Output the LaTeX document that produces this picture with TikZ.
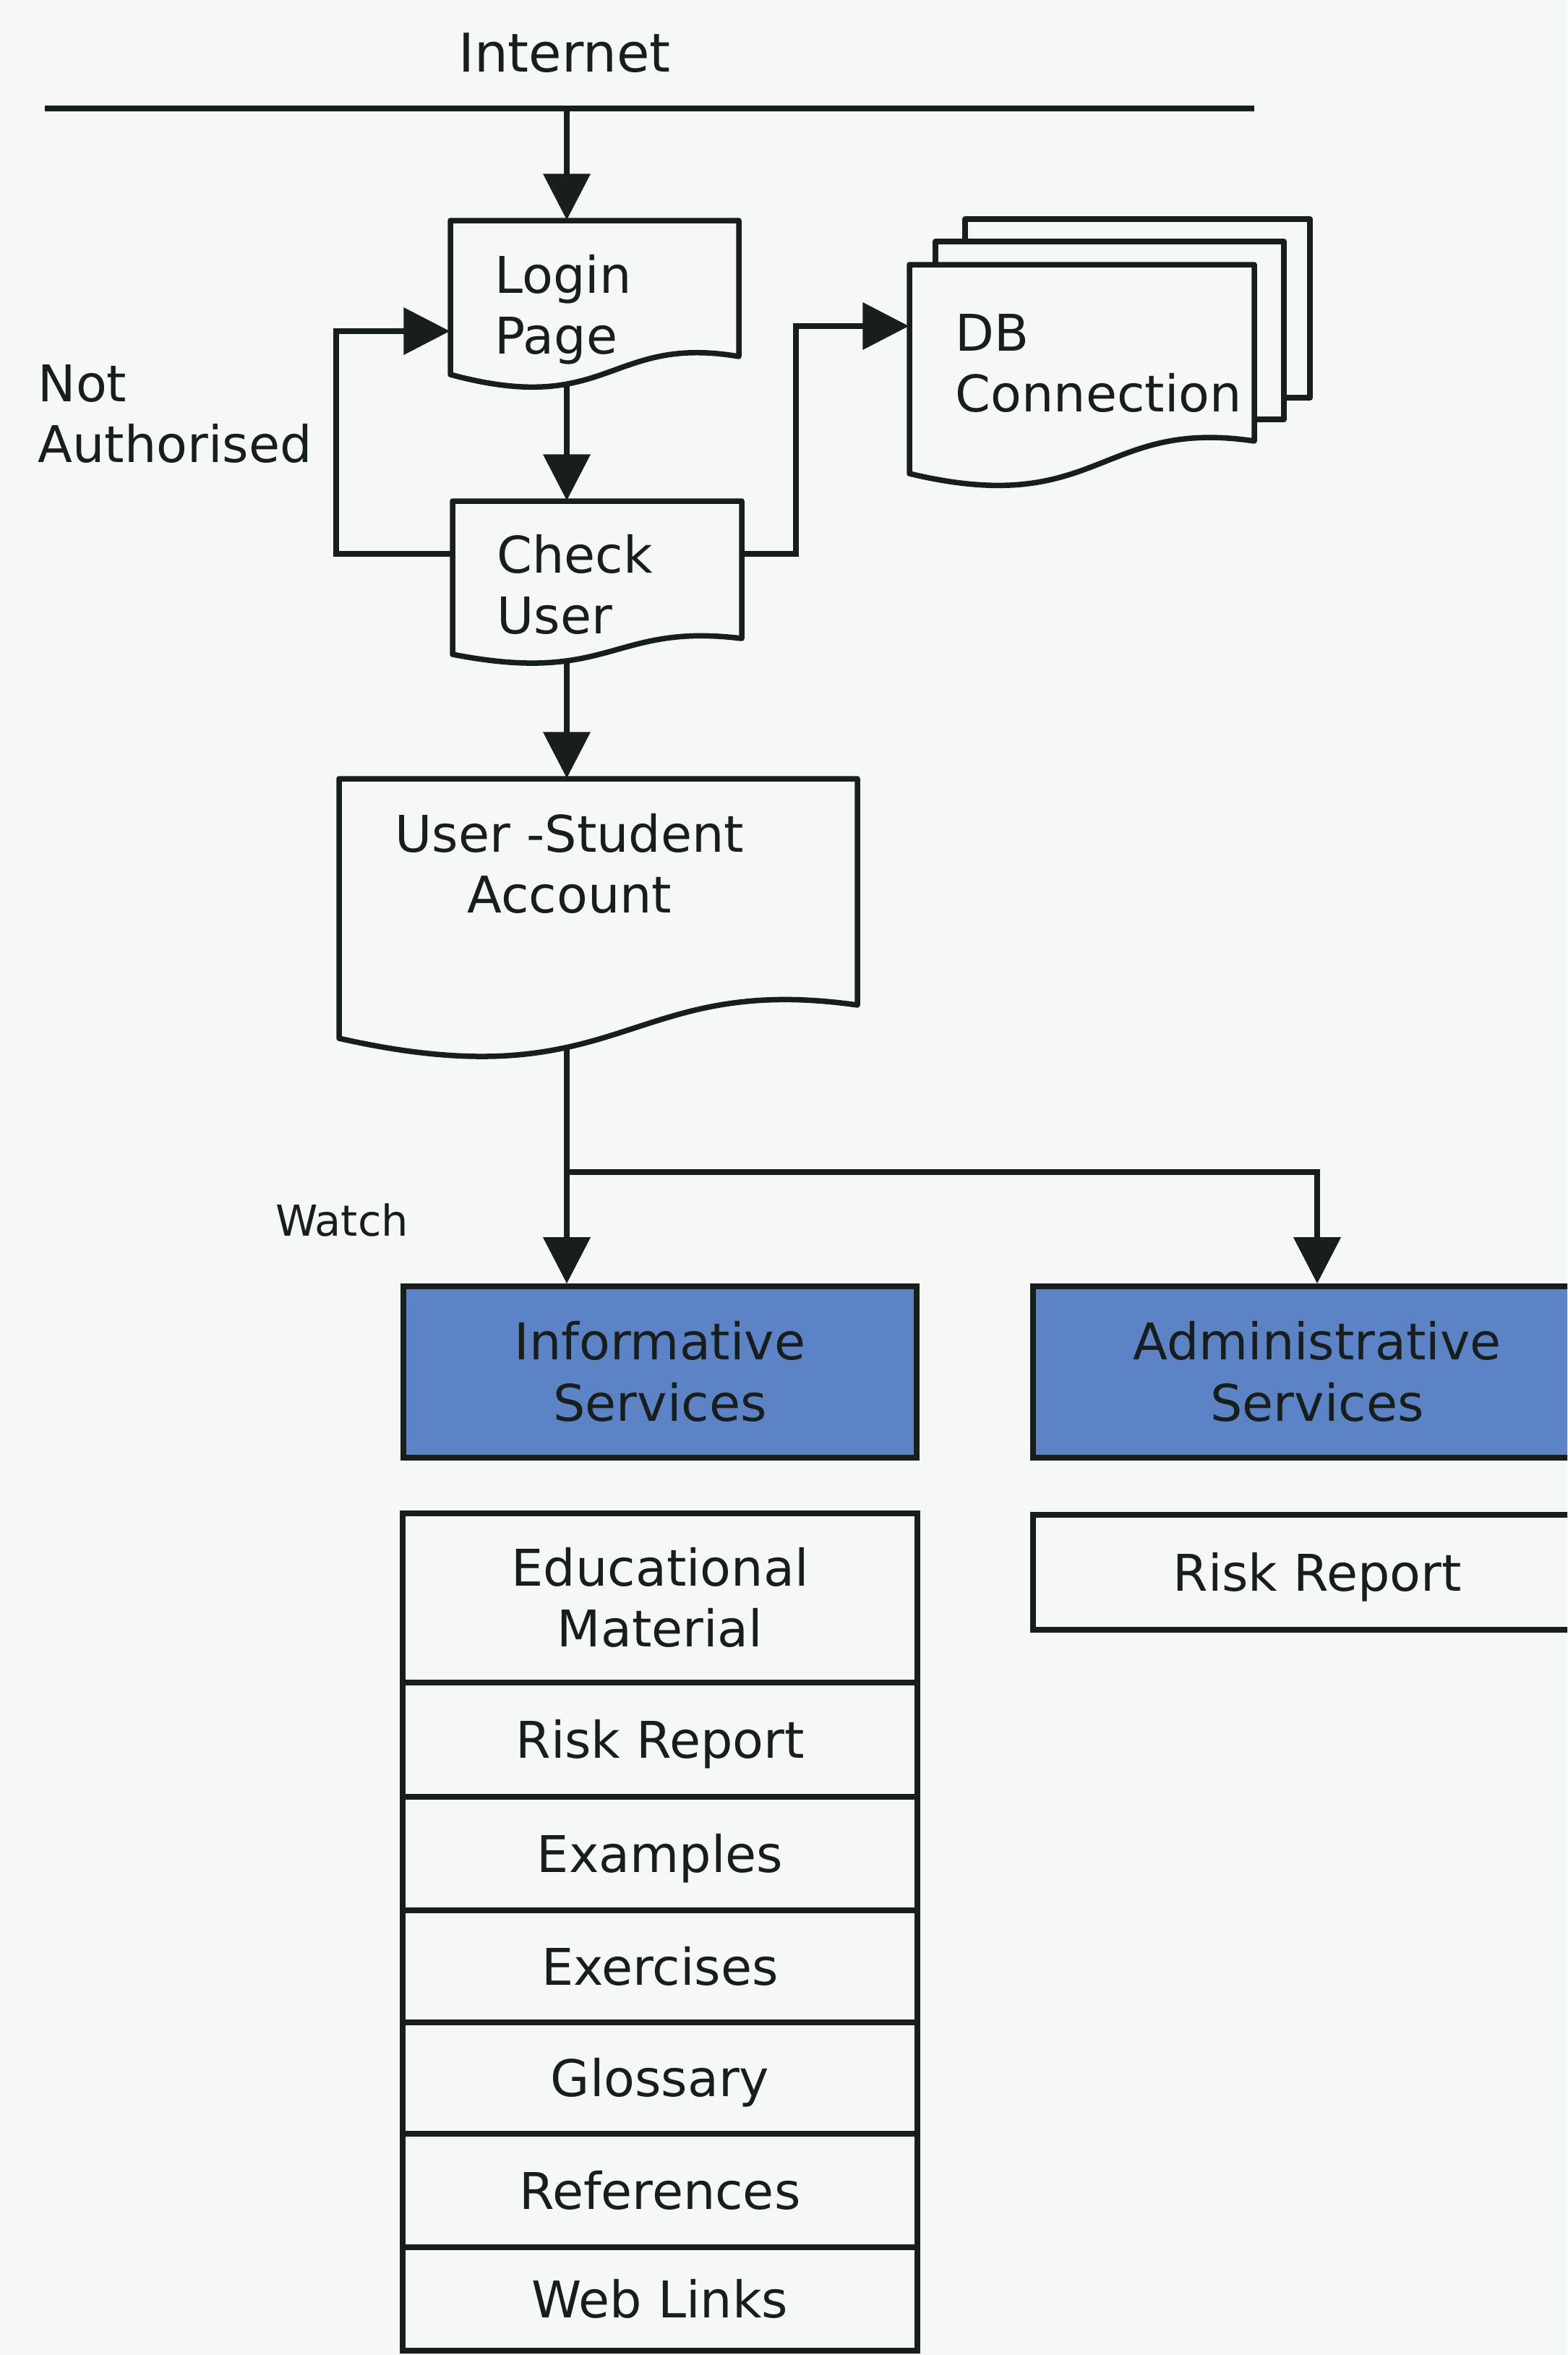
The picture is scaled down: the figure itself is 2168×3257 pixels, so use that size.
\documentclass[tikz,border=0pt]{standalone}
\usepackage{fontspec}
\setmainfont{DejaVu Sans}
\usetikzlibrary{arrows.meta,fit}
\pgfdeclarelayer{paper}
\pgfdeclarelayer{wires}
\pgfsetlayers{paper,wires,main}
\definecolor{ink}{RGB}{24,30,26}
\definecolor{paperc}{RGB}{246,248,246}
\definecolor{svcblue}{RGB}{93,131,199}

% document shape: #1 style, left, top, right, left-bottom y, right-bottom y, wave depth
\newcommand\docshape[7]{%
  \path[#1] (#2,#3) -- (#4,#3) -- (#4,#6)
    .. controls ({#2+0.55*(#4-#2)},{#6-1.7*#7}) and ({#2+0.55*(#4-#2)},{#5+3.3*#7}) .. (#2,#5) -- cycle;}

\tikzset{
  outline/.style={draw=ink, line width=0.075cm, fill=paperc, line join=round},
  wire/.style={draw=ink, line width=0.075cm},
  flow/.style={wire, -{Triangle[length=0.64cm,width=0.64cm]}},
  area/.style={inner sep=0pt, draw=none},
  txt/.style={font=\fontsize{19.9pt}{23.9pt}\selectfont, text=ink, inner sep=0pt,
              text height=14.5pt, text depth=0pt},
  txttwo/.style={txt, text height=38.4pt},
  svc/.style={draw=ink, line width=0.075cm, fill=svcblue, minimum height=2.37cm},
  cell/.style={draw=ink, line width=0.075cm, fill=paperc, minimum width=7.12cm},
}

\begin{document}
\begin{tikzpicture}[x=0.01cm,y=-0.01cm]
\useasboundingbox (0,0) rectangle (2168,3257);
\begin{pgfonlayer}{paper}
  \fill[paperc] (0,0) rectangle (2168,3257);
\end{pgfonlayer}
\clip (0,0) rectangle (2168,3257);

% network bus
\coordinate (busL) at (62,150);
\coordinate (busR) at (1735,150);
\coordinate (spine) at (784,150);
\draw[wire] (busL) -- (busR);
\node[txt, font=\fontsize{21pt}{25pt}\selectfont, text height=15.3pt] (inet) at (781,73) {Internet};

% document shapes
\docshape{outline}{623}{305}{1022}{518}{493}{18}
\node[area, fit={(623,305) (1022,518)}] (login) {};
\node[txttwo, anchor=west, align=left] (logintext) at (684,422) {Login\\Page};

\docshape{outline}{626}{693}{1026}{905}{883}{13}
\node[area, fit={(626,693) (1026,905)}] (check) {};
\node[txttwo, anchor=west, align=left] (checktext) at (687,809) {Check\\User};

% stacked database documents
\path[outline] (1335,303) rectangle (1812,550);
\path[outline] (1294,334) rectangle (1776,580);
\docshape{outline}{1258}{366}{1735}{655}{610}{19}
\node[area, fit={(1258,366) (1735,655)}] (db) {};
\node[txttwo, anchor=west, align=left] (dbtext) at (1321,502) {DB\\Connection};

\node[txttwo, anchor=west, align=left] (notauth) at (52,572) {Not\\Authorised};

\docshape{outline}{469}{1077}{1186}{1436}{1390}{27}
\node[area, fit={(469,1077) (1186,1436)}] (account) {};
\node[txttwo, align=center] (accounttext) at (788,1195) {User -Student\\Account};

\node[txt, font=\fontsize{16.8pt}{20pt}\selectfont, text height=12.3pt] (watch) at (473,1688) {Watch};

% service groups
\node[svc, txttwo, align=center, minimum width=7.10cm] (info) at (913,1897.5) {Informative\\Services};
\node[svc, txttwo, align=center, minimum width=7.86cm] (admin) at (1822,1897.5) {Administrative\\Services};
\node[cell, txt, minimum width=7.86cm, minimum height=1.59cm] (adminrisk) at (1822,2174.5) {Risk Report};

% informative service list
\node[cell, txttwo, align=center, minimum height=2.34cm] (edu) at (913,2210) {Educational\\Material};
\node[cell, txt, minimum height=1.58cm] (risk) at (913,2406) {Risk Report};
\node[cell, txt, minimum height=1.57cm] (examples) at (913,2563.5) {Examples};
\node[cell, txt, minimum height=1.55cm] (exercises) at (913,2719.5) {Exercises};
\node[cell, txt, minimum height=1.54cm] (glossary) at (913,2874) {Glossary};
\node[cell, txt, minimum height=1.57cm] (refs) at (913,3029.5) {References};
\node[cell, txt, minimum height=1.43cm] (weblinks) at (913,3179.5) {Web Links};

% connectors
\coordinate (naOut) at (465,766);
\coordinate (naIn) at (465,458);
\coordinate (dbOut) at (1101,766);
\coordinate (dbIn) at (1101,451);
\coordinate (fork) at (784,1621);
\begin{pgfonlayer}{wires}
  \draw[flow] (spine) -- (login.north -| spine);
  \draw[flow] (login.center -| spine) -- (check.north -| spine);
  \draw[flow] (check.center -| spine) -- (account.north -| spine);
  \draw[flow] (account.center -| spine) -- (info.north -| spine);
  \draw[flow] (fork) -| (admin.north);
  \draw[flow] (check.center |- naOut) -- (naOut) -- (naIn) -- (login.west |- naIn);
  \draw[flow] (check.center |- dbOut) -- (dbOut) -- (dbIn) -- (db.west |- dbIn);
\end{pgfonlayer}
\end{tikzpicture}
\end{document}
